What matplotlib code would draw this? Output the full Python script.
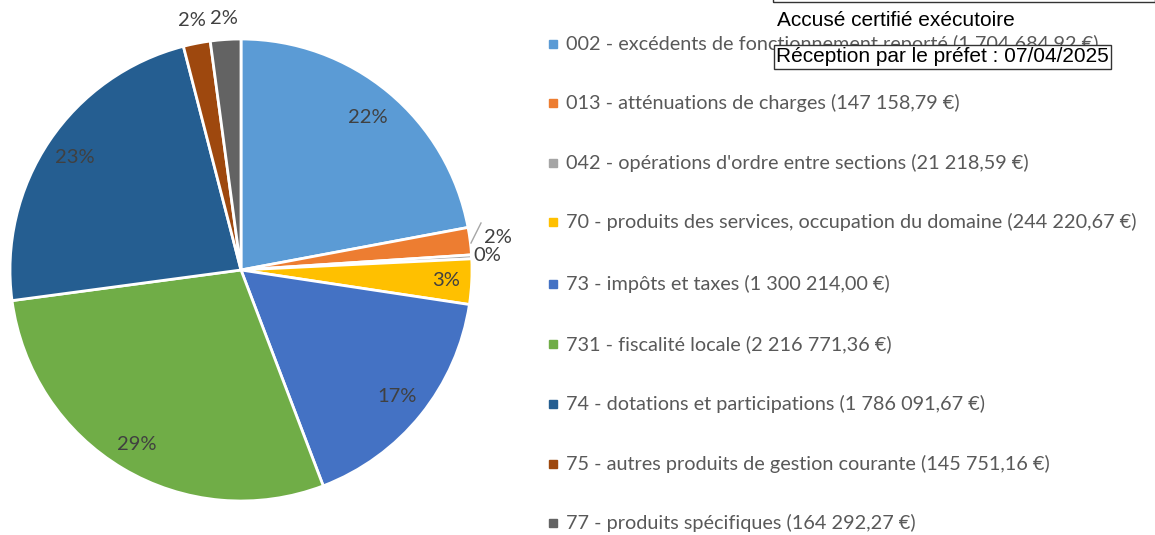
import numpy as np
import matplotlib.pyplot as plt
from matplotlib.patches import Rectangle

plt.rcParams['font.family'] = ['Lato', 'DejaVu Sans']

labels = ["002 - excédents de fonctionnement reporté (1 704 684,92 €)",
          "013 - atténuations de charges (147 158,79 €)",
          "042 - opérations d'ordre entre sections (21 218,59 €)",
          "70 - produits des services, occupation du domaine (244 220,67 €)",
          "73 - impôts et taxes (1 300 214,00 €)",
          "731 - fiscalité locale (2 216 771,36 €)",
          "74 - dotations et participations (1 786 091,67 €)",
          "75 - autres produits de gestion courante (145 751,16 €)",
          "77 - produits spécifiques (164 292,27 €)"]
values = [1704684.92, 147158.79, 21218.59, 244220.67, 1300214.00,
          2216771.36, 1786091.67, 145751.16, 164292.27]
colors = ['#5B9BD5', '#ED7D31', '#A5A5A5', '#FFC000', '#4472C4',
          '#70AD47', '#255E91', '#9E480E', '#636363']

W, H = 1155, 535
fig = plt.figure(figsize=(W / 100, H / 100), dpi=100, facecolor='white')

cx, cy, r = 241, 270, 231
ax = fig.add_axes([(cx - r) / W, (H - cy - r) / H, 2 * r / W, 2 * r / H])
wedges, _ = ax.pie(values, colors=colors, startangle=90, counterclock=False,
                   wedgeprops=dict(edgecolor='white', linewidth=2))
ax.set_xlim(-1, 1)
ax.set_ylim(-1, 1)
ax.set_aspect('equal')

total = sum(values)
# radial position of the percentage labels
dist = [0.86, 1.12, 1.07, 0.89, 0.87, 0.88, 0.87, 1.10, 1.09]
for i, w in enumerate(wedges):
    a = np.deg2rad((w.theta1 + w.theta2) / 2)
    pct = '%d%%' % round(values[i] / total * 100)
    ax.text(dist[i] * np.cos(a), dist[i] * np.sin(a), pct, ha='center',
            va='center', fontsize=14.5, color='#404040')

# leader line for the 013 label
ax.plot([(471 - cx) / r, (481 - cx) / r], [(cy - 243) / r, (cy - 223) / r],
        color='#A6A6A6', lw=1, clip_on=False)

# legend
ys = [44, 103, 163, 222, 284, 344, 404, 464, 523]
for lab, col, y in zip(labels, colors, ys):
    fig.patches.append(Rectangle((549 / W, (H - y - 4) / H), 8 / W, 8 / H,
                                 transform=fig.transFigure, color=col))
    fig.text(566 / W, (H - y) / H, lab, fontsize=14.3, color='#595959',
             va='center', ha='left')

# stamp boxes
fig.patches.append(Rectangle((773 / W, (H - 2) / H), 382 / W, 10 / H,
                             transform=fig.transFigure, fill=False,
                             edgecolor='#333333', lw=1))
fig.text(777 / W, (H - 20) / H, "Accusé certifié exécutoire", fontsize=15,
         family='Liberation Sans', color='black', va='center', ha='left')
fig.text(776 / W, (H - 57) / H, "Réception par le préfet : 07/04/2025",
         fontsize=15, family='Liberation Sans', color='black', va='center',
         ha='left', bbox=dict(boxstyle='square,pad=0.1', fc='white',
                              ec='#333333', lw=1))

fig.savefig('out.png', dpi=100)
